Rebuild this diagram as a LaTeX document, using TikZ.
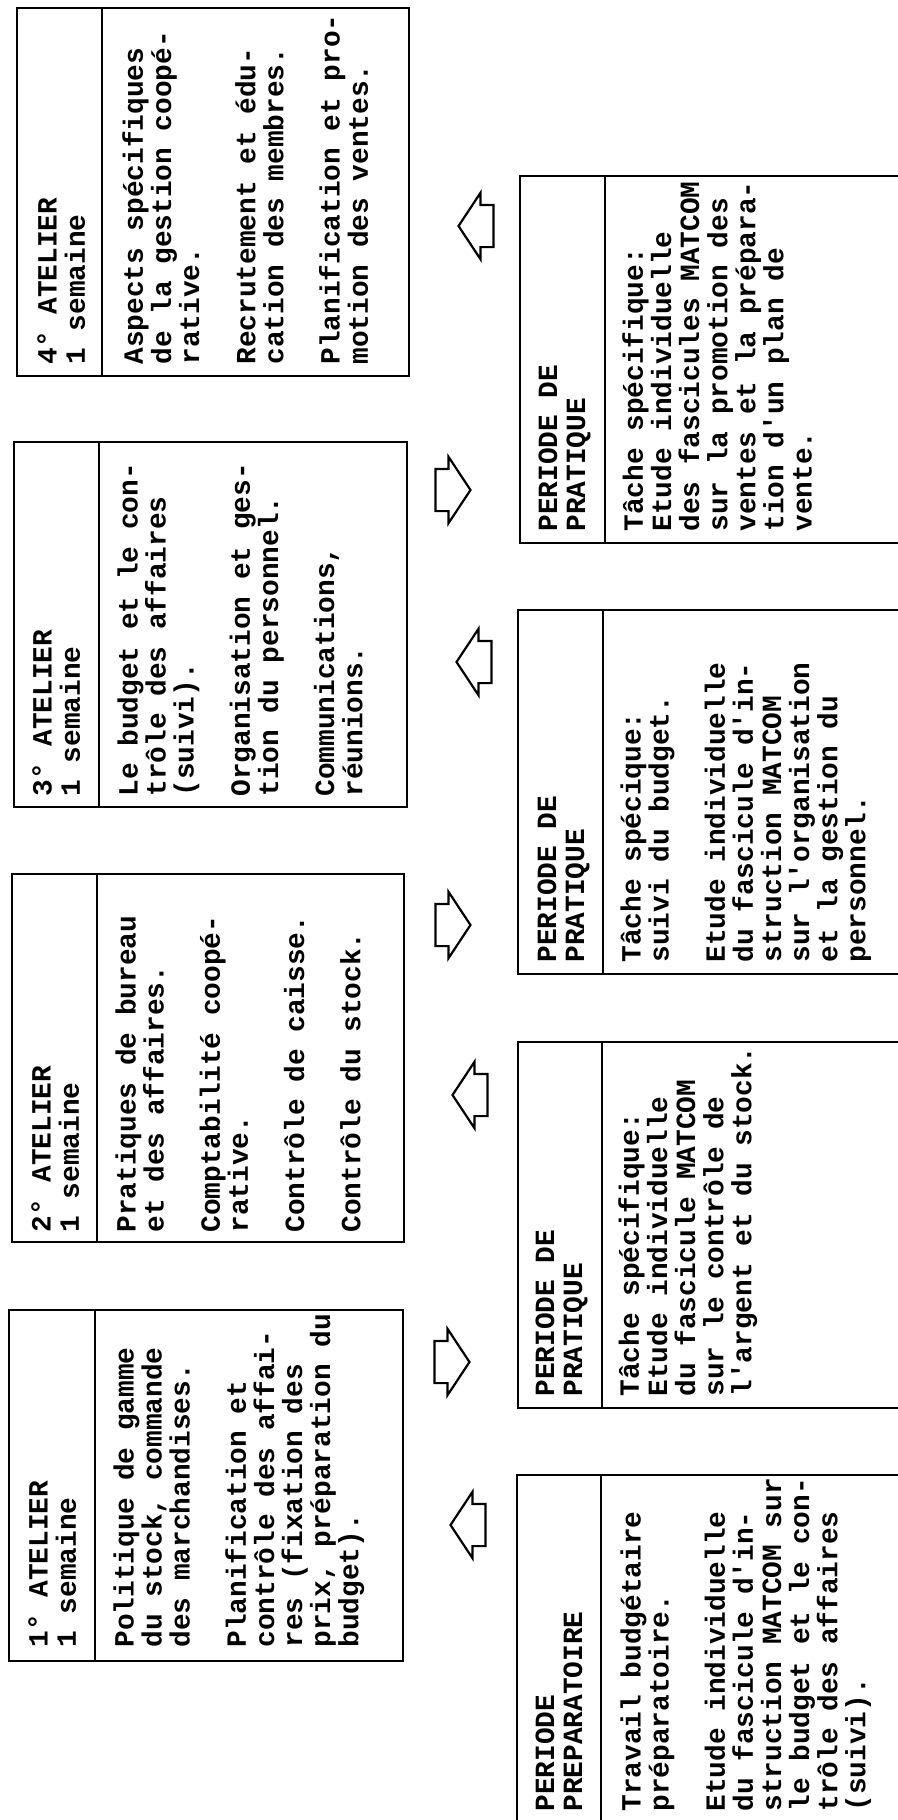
\documentclass[tikz,border=0pt]{standalone}
\usepackage{fontspec}
\setmonofont{Liberation Mono}
\usetikzlibrary{shapes.arrows}

\begin{document}
\begin{tikzpicture}[x=0.5pt,y=-0.5pt,
  box/.style={line width=1.2pt},
  txt/.style={rotate=90, anchor=north west, inner sep=0pt, align=left,
    font=\ttfamily\bfseries\fontsize{13.9}{14.05}\selectfont},
  flow/.style={single arrow, draw, line width=1.1pt, inner xsep=0pt, inner ysep=10pt,
    minimum height=17.5pt, single arrow head extend=6pt, single arrow tip angle=113},
  toright/.style={flow, shape border rotate=0},
  toleft/.style={flow, shape border rotate=180}]

\useasboundingbox (0,0) rectangle (898,1820);
\clip (0,0) rectangle (898,1820);

% Ateliers (left column)
\foreach \l/\d/\r/\t/\b in {9/95/403/1310/1661, 12/97/404/874/1242,
                              14/99/407/442/807, 17/102/409/8/376} {
  \draw[box] (\l,\t) rectangle (\r,\b);
  \draw[box] (\d,\t) -- (\d,\b);
}

% Periodes (right column, cut at the page edge)
\foreach \l/\d/\t/\b in {517/601/1475/1850, 518/602/1042/1408,
                         518/603/610/974, 520/605/176/543} {
  \draw[box] (\l,\t) rectangle (920,\b);
  \draw[box] (\d,\t) -- (\d,\b);
}

% Atelier 1
\node[txt] (w1h) at (28,1648) {1° ATELIER\\1 semaine};
\node[txt] (w1b) at (113,1648) {Politique de gamme\\du stock, commande\\des marchandises.\\[14.05pt]
  Planification et\\contrôle des affai-\\res (fixation des\\prix, préparation du\\budget).};

% Atelier 2
\node[txt] (w2h) at (31,1233) {2° ATELIER\\1 semaine};
\node[txt] (w2b) at (115,1233) {Pratiques de bureau\\et des affaires.\\[14.05pt]
  Comptabilité coopé-\\rative.\\[14.05pt]Contrôle de caisse.\\[14.05pt]Contrôle du stock.};

% Atelier 3
\node[txt] (w3h) at (32,797) {3° ATELIER\\1 semaine};
\node[txt] (w3b) at (117,797) {Le budget et le con-\\trôle des affaires\\(suivi).\\[14.05pt]
  Organisation et ges-\\tion du personnel.\\[14.05pt]Communications,\\réunions.};

% Atelier 4
\node[txt] (w4h) at (37,365) {4° ATELIER\\1 semaine};
\node[txt] (w4b) at (122,365) {Aspects spécifiques\\de la gestion coopé-\\rative.\\[14.05pt]
  Recrutement et édu-\\cation des membres.\\[14.05pt]Planification et pro-\\motion des ventes.};

% Periode preparatoire
\node[txt] (p0h) at (535,1812) {PERIODE\\PREPARATOIRE};
\node[txt] (p0b) at (620,1812) {Travail budgétaire\\préparatoire.\\[14.05pt]
  Etude individuelle\\du fascicule d'in-\\struction MATCOM sur\\le budget et le con-\\trôle des affaires\\(suivi).};

% Periodes de pratique
\node[txt] (p1h) at (535,1397) {PERIODE DE\\PRATIQUE};
\node[txt] (p1b) at (618,1397) {Tâche spécifique:\\Etude individuelle\\du fascicule MATCOM\\sur le contrôle de\\l'argent et du stock.};

\node[txt] (p2h) at (537,963) {PERIODE DE\\PRATIQUE};
\node[txt] (p2b) at (620,963) {Tâche spécique:\\suivi du budget.\\[14.05pt]
  Etude individuelle\\du fascicule d'in-\\struction MATCOM\\sur l'organisation\\et la gestion du\\personnel.};

\node[txt] (p3h) at (538,532) {PERIODE DE\\PRATIQUE};
\node[txt] (p3b) at (622,532) {Tâche spécifique:\\Etude individuelle\\des fascicules MATCOM\\sur la promotion des\\ventes et la prépara-\\tion d'un plan de\\vente.};

% Block arrows
\node[toleft]  (a1) at (475,1525) {};
\node[toright] (a2) at (445,1362) {};
\node[toleft]  (a3) at (477,1095) {};
\node[toright] (a4) at (446,925) {};
\node[toleft]  (a5) at (481,662) {};
\node[toright] (a6) at (446,490) {};
\node[toleft]  (a7) at (483,226) {};

\end{tikzpicture}
\end{document}
